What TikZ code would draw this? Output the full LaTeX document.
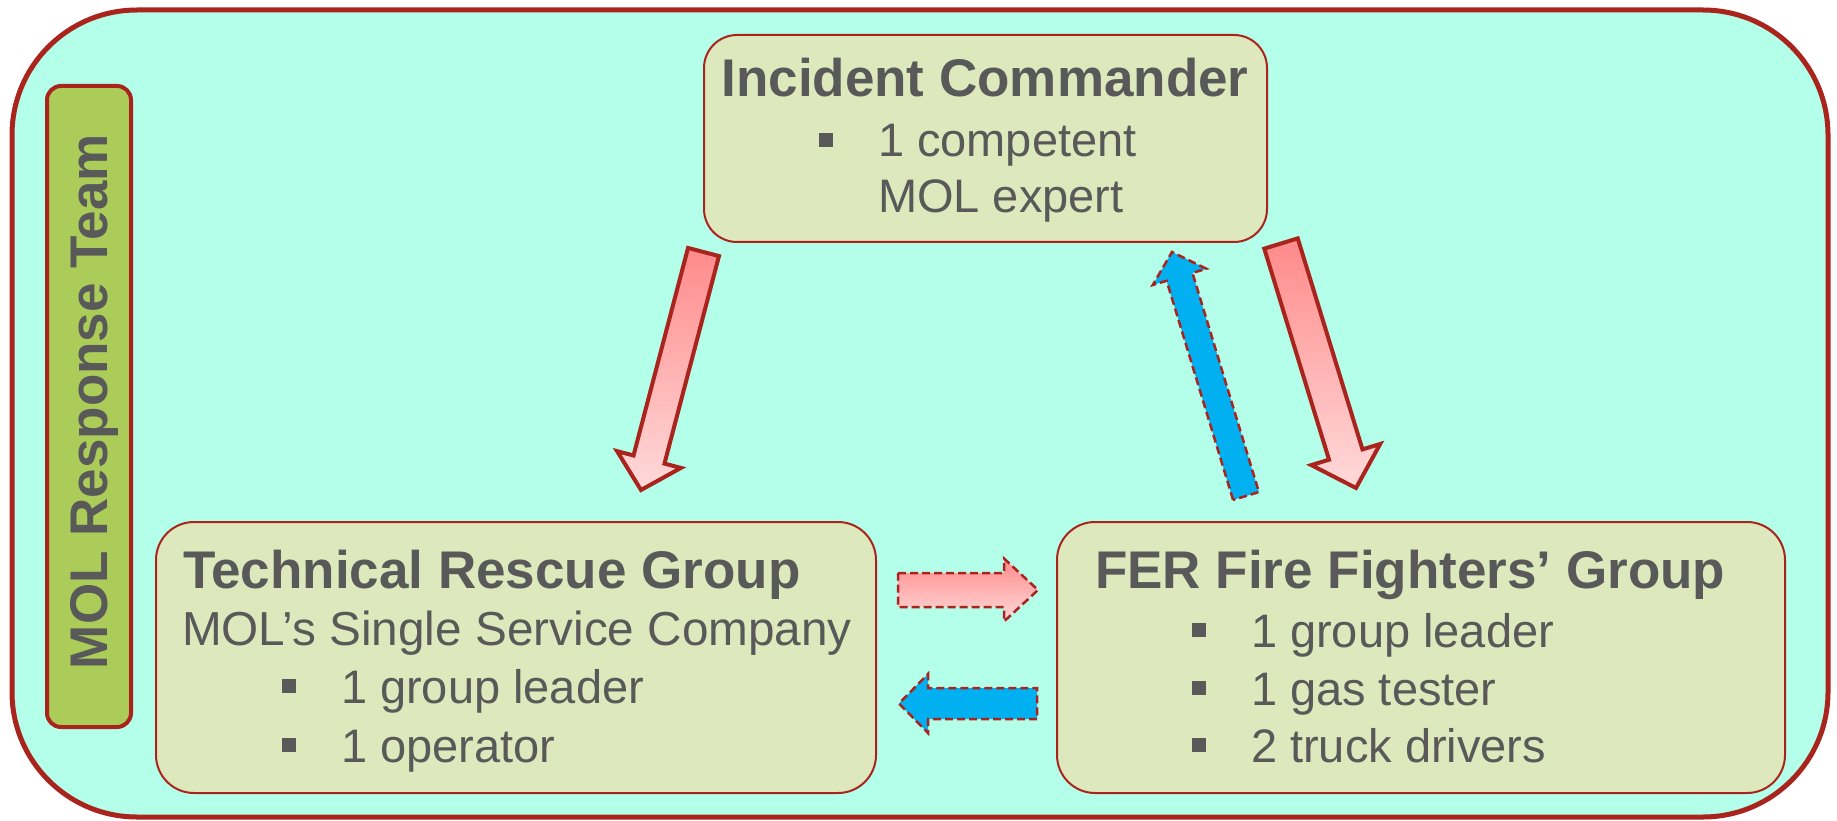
\documentclass[tikz,border=0pt]{standalone}
\usepackage{fontspec}
\setmainfont{Liberation Sans}
\usetikzlibrary{calc}
\definecolor{framered}{RGB}{170,36,30}
\definecolor{mint}{RGB}{179,255,233}
\definecolor{boxfill}{RGB}{221,233,188}
\definecolor{labelfill}{RGB}{172,204,90}
\definecolor{txt}{HTML}{595959}
\definecolor{pinkdark}{RGB}{255,138,138}
\definecolor{pinklight}{RGB}{255,218,218}
\definecolor{bluefill}{RGB}{0,176,240}
\newcommand{\sqb}{\rule[10pt]{14pt}{14pt}\hspace{45pt}}
% #1 style, #2 tail coordinate, #3 tip coordinate, #4 half shaft, #5 half head, #6 head length
\newcommand{\blockarrow}[6]{%
  \coordinate (#2b) at ($(#3)!#6pt!(#2)$);
  \draw[#1] ($(#2)!#4pt!90:(#3)$) -- ($(#2b)!#4pt!90:(#3)$) -- ($(#2b)!#5pt!90:(#3)$)
    -- (#3) -- ($(#2b)!#5pt!-90:(#3)$) -- ($(#2b)!#4pt!-90:(#3)$)
    -- ($(#2)!#4pt!-90:(#3)$) -- cycle;
}
\begin{document}
\begin{tikzpicture}[x=1pt,y=-1pt,
  teamframe/.style={draw=framered, line width=5pt, fill=mint, rounded corners=125pt, inner sep=0pt},
  labelbox/.style={draw=framered, line width=4pt, fill=labelfill, rounded corners=14pt, inner sep=0pt},
  groupbox/.style={draw=framered, line width=2pt, fill=boxfill, inner sep=0pt},
  titletext/.style={text=txt, font=\fontsize{53pt}{60pt}\selectfont\bfseries, inner sep=0pt, outer sep=0pt},
  bodytext/.style={text=txt, font=\fontsize{47pt}{56pt}\selectfont, inner sep=0pt, outer sep=0pt, anchor=base west},
  pinkarrow/.style={draw=framered, line width=4pt, top color=pinkdark, bottom color=pinklight},
  dashborder/.style={dash pattern=on 8pt off 4pt},
  pinkdashed/.style={draw=framered, line width=2.5pt, dashborder, top color=pinkdark, bottom color=pinklight},
  bluearrow/.style={draw=framered, line width=2.5pt, dashborder, fill=bluefill}]
\useasboundingbox (0,0) rectangle (1837,821);

% outer team frame
\node[teamframe, minimum width=1816pt, minimum height=807pt] (team) at (920,413.5) {};
% vertical label
\node[labelbox, minimum width=84pt, minimum height=641pt] (labelbar) at (89,406.5) {};
\node[titletext, rotate=90, anchor=base] (teamlabel) at (107,401.5) {MOL Response Team};

% group boxes
\node[groupbox, rounded corners=33pt, minimum width=563pt, minimum height=207pt] (ic) at (985.5,138.5) {};
\node[groupbox, rounded corners=38pt, minimum width=720pt, minimum height=271pt] (trg) at (516,657.5) {};
\node[groupbox, rounded corners=38pt, minimum width=728pt, minimum height=271pt] (fer) at (1421,657.5) {};

% Incident Commander text
\node[titletext, anchor=base] (ictitle) at (985,97) {Incident Commander};
\node[bodytext] (ic1) at (819,157) {\sqb 1 competent};
\node[bodytext] (ic2) at (878,213) {MOL expert};

% Technical Rescue Group text
\node[titletext, anchor=base west] (trgtitle) at (183,588) {Technical Rescue Group};
\node[bodytext, font=\fontsize{47.7pt}{56pt}\selectfont] (trg0) at (182,645) {MOL’s Single Service Company};
\node[bodytext] (trg1) at (282,703) {\sqb 1 group leader};
\node[bodytext] (trg2) at (282,762) {\sqb 1 operator};

% FER text
\node[titletext, anchor=base west] (fertitle) at (1095,588) {FER Fire Fighters’ Group};
\node[bodytext] (fer1) at (1192,647) {\sqb 1 group leader};
\node[bodytext] (fer2) at (1192,705) {\sqb 1 gas tester};
\node[bodytext] (fer3) at (1192,762) {\sqb 2 truck drivers};

% arrow end points
\coordinate (a1t) at (703.5,252);  \coordinate (a1h) at (641,490);
\coordinate (a2t) at (1281,243.5); \coordinate (a2h) at (1356,488);
\coordinate (a3t) at (1246,496);   \coordinate (a3h) at (1172,252);
\coordinate (a4t) at (898,590);    \coordinate (a4h) at (1038,590);
\coordinate (a5t) at (1037,703.5); \coordinate (a5h) at (899,703.5);

\blockarrow{pinkarrow}{a1t}{a1h}{16}{33}{31.5}
\blockarrow{pinkarrow}{a2t}{a2h}{17.5}{36}{35}
\blockarrow{bluearrow}{a3t}{a3h}{13.5}{28}{26}
\blockarrow{pinkdashed}{a4t}{a4h}{17}{31.5}{34}
\blockarrow{bluearrow}{a5t}{a5h}{15.5}{29.5}{29}
\end{tikzpicture}
\end{document}
